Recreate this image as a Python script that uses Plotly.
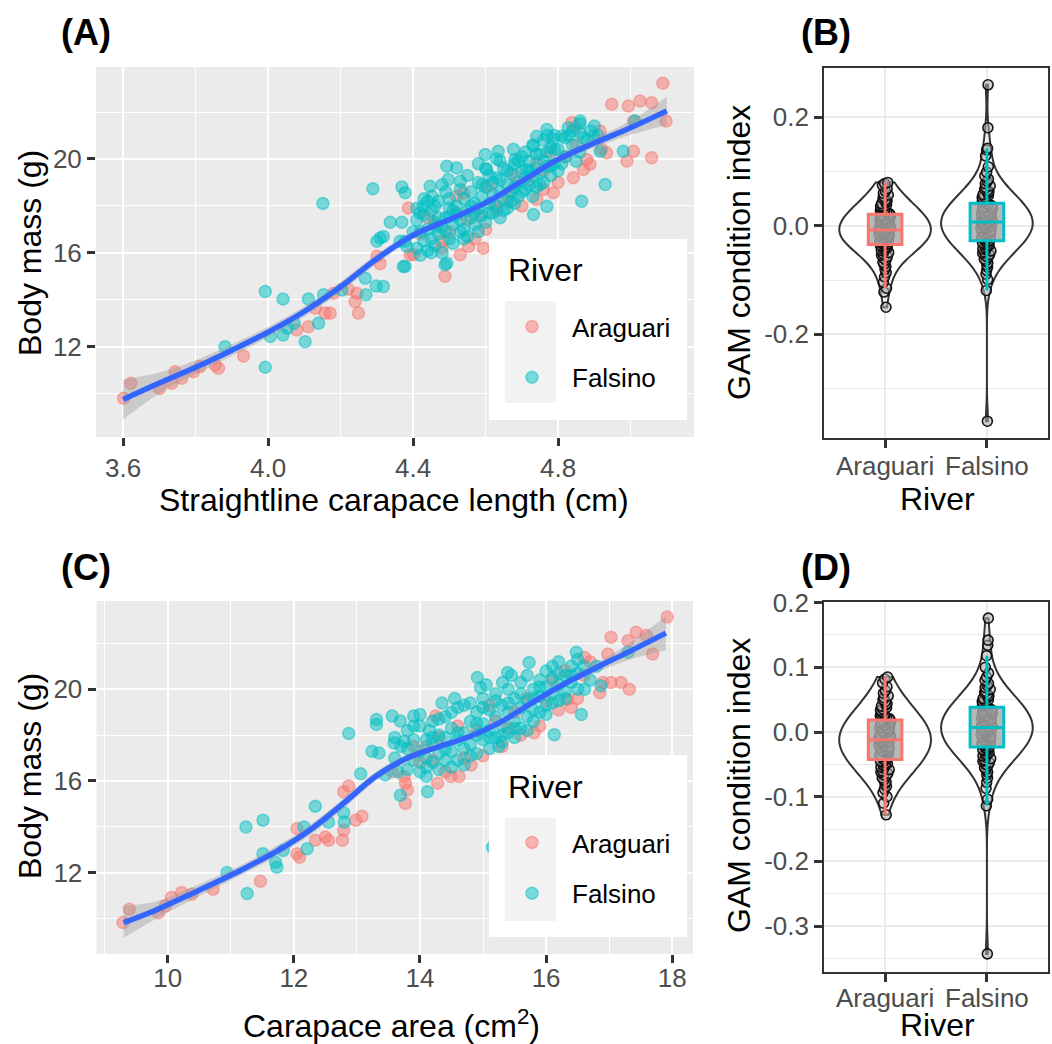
import plotly.graph_objects as go

W, H = 1052, 1044
FONT = "Liberation Sans, Arial, sans-serif"
RED = "#F8766D"
CYAN = "#00BFC4"

# ---------------- DATA ----------------
# Panel A: straightline carapace length (cm) vs body mass (g)
araA_x = [3.601, 3.621, 3.700, 3.734, 3.743, 3.762, 3.794, 3.812, 3.854, 3.863, 3.932,
          4.079, 4.111, 4.130, 4.157, 4.171, 4.180, 4.221, 4.245, 4.240, 4.249,
          4.300, 4.309, 4.387, 4.392, 4.401, 4.488, 4.479, 4.530, 4.553, 4.594,
          4.520, 4.539, 4.608, 4.622, 4.585, 4.672, 4.741, 4.741, 4.759, 4.787, 4.842,
          4.838, 4.847, 4.870, 4.879, 4.916, 4.920, 4.934, 4.948, 4.994, 5.008, 4.990,
          5.008, 5.026, 5.058, 5.058, 5.089, 5.098, 4.888,
          4.42, 4.46, 4.50, 4.55, 4.60, 4.63, 4.66, 4.70, 4.72, 4.68, 4.76, 4.80, 4.82,
          4.78, 4.85, 4.44, 4.52, 4.57, 4.48]
araA_y = [9.80, 10.44, 10.22, 10.44, 10.93, 10.65, 10.93, 11.15, 11.22, 11.08, 11.60,
          12.71, 12.85, 13.64, 13.43, 13.43, 14.28, 14.45, 14.28, 13.92, 13.43,
          15.85, 15.53, 17.91, 15.92, 15.92, 15.00, 16.20, 15.92, 16.27, 16.20,
          18.41, 18.56, 18.84, 18.13, 17.56, 18.62, 19.84, 18.27, 18.70, 18.56, 19.20,
          21.55, 21.33, 19.55, 19.98, 21.19, 20.41, 20.26, 22.33, 22.26, 21.62, 19.91,
          20.33, 22.47, 22.40, 20.05, 23.23, 21.62, 19.77,
          16.8, 17.2, 16.9, 17.4, 17.0, 17.8, 18.2, 18.0, 19.1, 19.3, 19.5, 19.0, 20.1,
          20.3, 20.6, 17.5, 17.7, 16.6, 16.5]

falA_x = [3.881, 3.992, 3.992, 4.006, 4.041, 4.041, 4.053, 4.072, 4.102, 4.111, 4.139,
          4.151, 4.153, 4.203, 4.268, 4.270, 4.298, 4.289, 4.300, 4.309, 4.337, 4.369,
          4.369, 4.378, 4.378, 4.378, 4.318, 4.318, 4.364, 4.383, 4.419, 4.428, 4.447,
          4.452, 4.488, 4.493, 4.520, 4.497, 4.530, 4.465, 4.502, 4.599, 4.603, 4.635,
          4.640, 4.677, 4.681, 4.713, 4.732, 4.741, 4.769, 4.787, 4.810, 4.828, 4.861,
          4.861, 4.897, 4.916, 4.930, 4.865, 4.769, 4.732, 4.980, 5.012, 4.493, 4.373,
          4.41, 4.41, 4.42, 4.42, 4.43, 4.43, 4.44, 4.44, 4.45, 4.45, 4.46, 4.46, 4.47,
          4.47, 4.48, 4.48, 4.49, 4.49, 4.50, 4.50, 4.51, 4.51, 4.52, 4.52, 4.53, 4.53,
          4.54, 4.54, 4.55, 4.55, 4.56, 4.56, 4.57, 4.57, 4.58, 4.58, 4.59, 4.59, 4.60,
          4.60, 4.61, 4.61, 4.62, 4.62, 4.63, 4.63, 4.64, 4.64, 4.65, 4.65, 4.66, 4.66,
          4.67, 4.67, 4.68, 4.68, 4.69, 4.69, 4.70, 4.70, 4.71, 4.71, 4.72, 4.72, 4.73,
          4.73, 4.74, 4.74, 4.75, 4.75, 4.76, 4.76, 4.77, 4.77, 4.78, 4.78, 4.79, 4.79,
          4.80, 4.80, 4.82, 4.82, 4.84, 4.84, 4.86, 4.86, 4.88, 4.90,
          4.40, 4.41, 4.43, 4.45, 4.46, 4.47, 4.49, 4.50, 4.51, 4.53, 4.54, 4.56, 4.57,
          4.58, 4.59, 4.60, 4.61, 4.62, 4.64, 4.65, 4.66, 4.67, 4.68, 4.69, 4.70, 4.71,
          4.72, 4.73, 4.74, 4.75, 4.76, 4.77, 4.78, 4.79, 4.81, 4.83, 4.85, 4.87, 4.89,
          4.91, 4.55, 4.48, 4.63, 4.58, 4.44]
falA_y = [12.00, 14.35, 11.12, 12.43, 14.03, 12.50, 12.79, 13.00, 12.21, 14.03, 13.00,
          18.10, 14.21, 14.42, 14.92, 14.21, 14.59, 18.73, 16.49, 16.63, 17.30, 17.30,
          18.81, 18.56, 15.42, 16.49, 16.70, 14.56, 16.49, 16.27, 17.70, 17.98, 18.84,
          18.41, 15.49, 19.69, 19.62, 19.12, 19.05, 17.13, 17.56, 20.19, 19.55, 20.33,
          19.91, 20.41, 19.98, 19.55, 20.55, 20.97, 21.26, 20.83, 20.97, 21.33, 21.62,
          21.12, 20.97, 20.33, 18.91, 18.20, 17.98, 17.63, 20.33, 21.62, 15.56, 15.42,
          16.2, 17.4, 16.9, 15.9, 17.6, 16.5, 16.1, 17.0, 17.8, 16.6, 16.3, 17.3, 18.2,
          16.8, 17.1, 16.0, 17.5, 18.6, 16.6, 17.9, 17.2, 16.4, 18.0, 17.6, 16.9, 17.4,
          18.3, 17.0, 17.8, 16.7, 18.6, 17.5, 17.2, 18.1, 17.9, 19.0, 18.4, 17.6, 17.3,
          18.8, 18.1, 19.3, 17.7, 18.5, 19.2, 18.0, 18.6, 17.5, 19.6, 18.3, 18.9, 17.9,
          19.4, 18.6, 18.1, 19.8, 19.0, 18.4, 19.5, 20.1, 18.7, 19.2, 19.9, 18.9, 19.3,
          20.6, 18.8, 19.6, 20.2, 19.4, 19.0, 20.8, 19.7, 20.3, 20.5, 19.3, 19.8, 21.0,
          20.4, 19.5, 20.9, 20.1, 21.2, 20.6, 20.3, 21.5, 20.8, 21.4,
          16.9, 17.9, 18.3, 16.0, 18.0, 17.5, 16.9, 18.3, 17.8, 18.7, 16.6, 18.0, 17.7,
          16.9, 18.9, 19.6, 17.7, 19.0, 19.1, 17.8, 19.5, 18.2, 18.8, 19.9, 18.6, 20.3,
          19.5, 18.4, 20.2, 18.9, 19.9, 21.0, 19.7, 20.4, 19.8, 21.0, 19.9, 20.9, 21.2,
          21.0, 19.3, 18.9, 20.0, 19.8, 18.2]

# GAM smooth for panel A
fitA_x = [3.60, 3.70, 3.80, 3.90, 4.00, 4.10, 4.20, 4.30, 4.40, 4.50, 4.60, 4.70, 4.80, 4.90, 5.00, 5.10]
fitA_y = [9.75, 10.45, 11.12, 11.85, 12.62, 13.50, 14.55, 15.75, 16.75, 17.42, 18.13, 19.05, 19.98, 20.68, 21.33, 22.05]
fitA_lo = [8.90, 10.00, 10.82, 11.60, 12.40, 13.28, 14.33, 15.55, 16.60, 17.30, 18.01, 18.93, 19.83, 20.48, 21.03, 21.45]
fitA_hi = [10.60, 10.90, 11.42, 12.10, 12.84, 13.72, 14.77, 15.95, 16.90, 17.54, 18.25, 19.17, 20.13, 20.88, 21.63, 22.65]

# Panel C: carapace area (cm2) vs body mass (g)
araC_x = [9.29, 9.39, 9.85, 9.96, 10.06, 10.22, 10.38, 10.72, 11.47, 12.05, 12.05, 12.09,
          12.34, 12.50, 12.55, 12.77, 12.79, 12.79, 12.87, 12.98, 13.08, 13.56, 13.75,
          13.77, 13.77, 13.80, 14.28, 14.25, 14.49, 14.62, 14.81, 15.81, 16.34, 16.40,
          16.85, 16.90, 17.03, 17.19, 17.32, 17.03, 17.30, 17.43, 17.59, 17.69, 17.92,
          16.98, 16.61,
          14.0, 14.1, 14.3, 14.4, 14.6, 14.7, 14.9, 15.0, 15.2, 15.3, 15.5, 15.6, 15.7,
          15.9, 16.0, 16.1, 16.2, 16.3, 16.5, 16.6, 16.7, 13.9, 14.2, 15.4, 15.1]
araC_y = [9.82, 10.40, 10.25, 10.55, 10.91, 11.13, 11.06, 11.28, 11.62, 13.92, 12.82, 12.67,
          13.41, 13.55, 13.41, 13.41, 13.85, 15.53, 15.78, 14.29, 14.46, 16.41, 16.19,
          15.02, 15.90, 15.60, 15.90, 18.83, 16.19, 16.19, 16.70, 18.10, 19.56, 19.20,
          19.85, 20.29, 20.29, 20.29, 20.00, 22.27, 22.12, 22.49, 22.34, 21.54, 23.15,
          21.54, 21.39,
          16.8, 17.5, 17.9, 16.4, 18.4, 17.0, 18.2, 17.1, 18.6, 17.5, 19.0, 18.0, 19.6,
          18.4, 19.5, 20.4, 19.1, 20.8, 19.6, 20.6, 21.2, 17.5, 16.9, 18.3, 19.3]

falC_x = [10.94, 11.24, 11.26, 11.51, 11.51, 11.71, 11.73, 11.83, 12.16, 12.21, 12.34,
          12.55, 12.79, 12.80, 12.87, 13.06, 13.31, 13.31, 13.24, 13.35, 13.45, 13.56,
          13.69, 13.59, 13.69, 13.75, 13.90, 14.12, 14.91, 14.96, 15.31, 15.39, 15.73,
          16.13, 16.56, 16.48, 16.61, 16.87, 15.15, 17.30,
          13.6, 13.6, 13.8, 13.8, 13.8, 13.9, 13.9, 14.0, 14.0, 14.0, 14.1, 14.1, 14.1,
          14.2, 14.2, 14.2, 14.3, 14.3, 14.3, 14.4, 14.4, 14.4, 14.5, 14.5, 14.5, 14.6,
          14.6, 14.6, 14.7, 14.7, 14.7, 14.8, 14.8, 14.8, 14.9, 14.9, 14.9, 15.0, 15.0,
          15.0, 15.1, 15.1, 15.1, 15.2, 15.2, 15.2, 15.3, 15.3, 15.3, 15.4, 15.4, 15.4,
          15.5, 15.5, 15.5, 15.6, 15.6, 15.6, 15.7, 15.7, 15.7, 15.8, 15.8, 15.8, 15.9,
          15.9, 15.9, 16.0, 16.0, 16.0, 16.1, 16.1, 16.1, 16.2, 16.2, 16.2, 16.3, 16.3,
          16.4, 16.4, 16.5, 16.5,
          13.7, 13.9, 14.0, 14.1, 14.2, 14.3, 14.4, 14.5, 14.6, 14.7, 14.8, 14.9, 15.0,
          15.1, 15.2, 15.3, 15.4, 15.5, 15.6, 15.7, 15.8, 15.9, 16.0, 16.1, 16.2, 16.3,
          16.4, 16.5, 16.6, 14.35, 14.55, 13.65, 15.05, 15.45, 15.25, 14.15, 16.7, 16.8]
falC_y = [12.01, 13.99, 11.09, 14.29, 12.82, 12.45, 12.23, 12.97, 13.99, 13.04, 14.90,
          14.21, 14.61, 14.21, 18.07, 16.31, 18.68, 18.46, 17.29, 17.22, 16.26, 18.83,
          18.61, 17.66, 15.38, 17.73, 18.83, 15.53, 20.51, 20.07, 20.29, 20.73, 21.17,
          18.02, 18.90, 21.61, 20.00, 20.15, 13.11, 21.61,
          17.0, 17.9, 16.5, 18.2, 17.4, 16.9, 17.8, 16.4, 17.3, 18.4, 17.0, 17.8, 16.2,
          17.6, 18.6, 16.8, 17.2, 16.5, 18.0, 17.9, 16.9, 18.8, 17.3, 18.3, 16.6, 17.8,
          16.9, 19.2, 18.1, 17.4, 16.7, 18.6, 17.6, 19.4, 18.0, 17.2, 19.0, 18.5, 17.8,
          19.6, 18.2, 19.1, 17.4, 18.8, 17.9, 19.8, 18.4, 19.3, 17.7, 19.0, 18.1, 20.0,
          18.6, 19.6, 17.9, 19.2, 18.3, 20.3, 19.5, 18.8, 20.6, 19.1, 20.0, 18.6, 19.7,
          20.4, 19.0, 20.1, 19.3, 20.8, 19.8, 20.5, 21.0, 20.2, 19.5, 21.2, 20.6, 19.9,
          21.0, 20.3, 20.7, 21.3,
          17.5, 18.4, 18.9, 16.6, 17.9, 18.7, 17.4, 19.0, 18.1, 19.3, 17.1, 18.5, 19.2,
          17.9, 19.5, 18.0, 19.4, 18.3, 19.8, 18.2, 19.6, 20.1, 18.9, 19.4, 20.7, 19.6,
          20.6, 20.0, 21.0, 19.4, 19.6, 16.4, 20.2, 20.6, 17.5, 18.2, 20.4, 21.0]

fitC_x = [9.3, 9.8, 10.3, 10.8, 11.3, 11.8, 12.3, 12.8, 13.3, 13.8, 14.3, 14.8, 15.3, 15.8, 16.3, 16.8, 17.3, 17.9]
fitC_y = [9.82, 10.35, 10.98, 11.62, 12.30, 13.05, 13.95, 15.05, 16.20, 17.00, 17.50, 17.95, 18.60, 19.45, 20.25, 20.95, 21.62, 22.45]
fitC_lo = [9.15, 9.97, 10.70, 11.38, 12.08, 12.82, 13.72, 14.83, 16.00, 16.82, 17.38, 17.83, 18.48, 19.33, 20.12, 20.75, 21.27, 21.70]
fitC_hi = [10.55, 10.73, 11.26, 11.86, 12.52, 13.28, 14.18, 15.27, 16.40, 17.18, 17.62, 18.07, 18.72, 19.57, 20.38, 21.15, 21.97, 23.20]

# Panel B: GAM condition index (length model)
condB_ara = [-0.150, -0.122, -0.115, -0.104, -0.094, -0.086, -0.080, -0.075, -0.071, -0.067,
             -0.063, -0.060, -0.057, -0.054, -0.051, -0.049, -0.047, -0.045, -0.043, -0.042,
             -0.040, -0.039, -0.037, -0.036, -0.035, -0.034, -0.033, -0.032, -0.031, -0.030,
             -0.028, -0.027, -0.026, -0.025, -0.024, -0.023, -0.022, -0.020, -0.019, -0.018,
             -0.017, -0.016, -0.015, -0.014, -0.013, -0.012, -0.011, -0.010, -0.009, -0.008,
             -0.007, -0.005, -0.004, -0.003, -0.002, -0.001, 0.000, 0.001, 0.002, 0.003,
             0.004, 0.005, 0.006, 0.008, 0.009, 0.010, 0.011, 0.012, 0.013, 0.014,
             0.016, 0.017, 0.018, 0.019, 0.021, 0.022, 0.023, 0.025, 0.026, 0.028,
             0.029, 0.031, 0.032, 0.034, 0.036, 0.037, 0.039, 0.041, 0.043, 0.046,
             0.048, 0.051, 0.054, 0.057, 0.060, 0.064, 0.069, 0.075, 0.078, 0.080]
condB_fal = [-0.360, -0.119, -0.099, -0.089, -0.082, -0.076, -0.072, -0.068, -0.064, -0.061,
             -0.058, -0.055, -0.053, -0.050, -0.048, -0.046, -0.044, -0.042, -0.040, -0.038,
             -0.036, -0.035, -0.033, -0.031, -0.030, -0.028, -0.027, -0.025, -0.024, -0.022,
             -0.021, -0.020, -0.018, -0.017, -0.015, -0.014, -0.013, -0.012, -0.010, -0.009,
             -0.008, -0.007, -0.005, -0.004, -0.003, -0.002, 0.000, 0.001, 0.002, 0.003,
             0.004, 0.006, 0.007, 0.008, 0.009, 0.010, 0.012, 0.013, 0.014, 0.015,
             0.017, 0.018, 0.019, 0.020, 0.022, 0.023, 0.024, 0.025, 0.027, 0.028,
             0.030, 0.031, 0.032, 0.034, 0.035, 0.037, 0.038, 0.040, 0.041, 0.043,
             0.045, 0.046, 0.048, 0.050, 0.052, 0.054, 0.056, 0.058, 0.060, 0.063,
             0.065, 0.068, 0.071, 0.074, 0.078, 0.082, 0.086, 0.092, 0.099, 0.109,
             0.129, 0.140, 0.143, 0.181, 0.260]

# Panel D: GAM condition index (area model)
condD_ara = [-0.128, -0.110, -0.100, -0.094, -0.088, -0.084, -0.080, -0.077, -0.074, -0.071,
             -0.068, -0.066, -0.064, -0.062, -0.060, -0.058, -0.056, -0.054, -0.052, -0.051,
             -0.049, -0.048, -0.046, -0.045, -0.043, -0.042, -0.040, -0.039, -0.038, -0.036,
             -0.035, -0.034, -0.032, -0.031, -0.030, -0.029, -0.028, -0.026, -0.025, -0.024,
             -0.023, -0.022, -0.021, -0.019, -0.018, -0.017, -0.016, -0.015, -0.014, -0.013,
             -0.011, -0.010, -0.009, -0.008, -0.007, -0.006, -0.005, -0.004, -0.002, -0.001,
             0.000, 0.001, 0.002, 0.004, 0.005, 0.006, 0.007, 0.008, 0.010, 0.011,
             0.012, 0.014, 0.015, 0.016, 0.018, 0.019, 0.021, 0.022, 0.024, 0.025,
             0.027, 0.028, 0.030, 0.032, 0.034, 0.036, 0.038, 0.040, 0.042, 0.044,
             0.047, 0.050, 0.053, 0.056, 0.060, 0.064, 0.070, 0.076, 0.082, 0.085]
condD_fal = [-0.343, -0.114, -0.104, -0.087, -0.078, -0.071, -0.066, -0.062, -0.058, -0.055,
             -0.052, -0.050, -0.047, -0.045, -0.043, -0.041, -0.039, -0.037, -0.035, -0.034,
             -0.032, -0.030, -0.029, -0.027, -0.026, -0.024, -0.023, -0.022, -0.020, -0.019,
             -0.018, -0.017, -0.015, -0.014, -0.013, -0.012, -0.011, -0.009, -0.008, -0.007,
             -0.006, -0.005, -0.004, -0.003, -0.001, 0.000, 0.001, 0.002, 0.003, 0.004,
             0.005, 0.006, 0.007, 0.008, 0.009, 0.011, 0.012, 0.013, 0.014, 0.015,
             0.016, 0.017, 0.018, 0.019, 0.020, 0.022, 0.023, 0.024, 0.025, 0.026,
             0.027, 0.029, 0.030, 0.031, 0.032, 0.034, 0.035, 0.036, 0.038, 0.039,
             0.041, 0.042, 0.044, 0.045, 0.047, 0.049, 0.050, 0.052, 0.054, 0.056,
             0.058, 0.061, 0.063, 0.066, 0.069, 0.072, 0.075, 0.080, 0.085, 0.091,
             0.100, 0.118, 0.134, 0.142, 0.176]

rivers = ["Araguari", "Falsino"]

# ---------------- HELPERS ----------------
def rgba(hexc, a):
    h = hexc.lstrip("#")
    return "rgba(%d,%d,%d,%s)" % (int(h[0:2], 16), int(h[2:4], 16), int(h[4:6], 16), a)

def px_x(p):
    return p / W

def px_y(p):
    return 1 - p / H

fig = go.Figure()

def scatter_panel(xa, ya, legend, ax, ay, fx, fy, flo, fhi):
    for name, xs, ys, col, grp in [("Araguari", ax[0], ay[0], RED, "a"),
                                   ("Falsino", ax[1], ay[1], CYAN, "f")]:
        fig.add_trace(go.Scatter(
            x=xs, y=ys, mode="markers", name=name, legend=legend, legendgroup=legend + grp,
            xaxis=xa, yaxis=ya,
            marker=dict(size=12, color=rgba(col, 0.5), line=dict(color=rgba(col, 0.5), width=1.5)),
            hoverinfo="skip"))
    fig.add_trace(go.Scatter(x=fx, y=flo, mode="lines", line=dict(width=0, shape="spline"),
                             xaxis=xa, yaxis=ya, showlegend=False, hoverinfo="skip"))
    fig.add_trace(go.Scatter(x=fx, y=fhi, mode="lines", line=dict(width=0, shape="spline"),
                             fill="tonexty", fillcolor="rgba(153,153,153,0.4)",
                             xaxis=xa, yaxis=ya, showlegend=False, hoverinfo="skip"))
    fig.add_trace(go.Scatter(x=fx, y=fy, mode="lines", line=dict(width=5.5, color="#3366FF", shape="spline"),
                             xaxis=xa, yaxis=ya, showlegend=False, hoverinfo="skip"))

scatter_panel("x", "y", "legend", [araA_x, falA_x], [araA_y, falA_y], fitA_x, fitA_y, fitA_lo, fitA_hi)
scatter_panel("x3", "y3", "legend2", [araC_x, falC_x], [araC_y, falC_y], fitC_x, fitC_y, fitC_lo, fitC_hi)

def violin_panel(xa, ya, vals, bws):
    for river, v, bw in zip(rivers, vals, bws):
        fig.add_trace(go.Violin(
            x=[river] * len(v), y=v, xaxis=xa, yaxis=ya, width=0.9, scalemode="width",
            spanmode="hard", bandwidth=bw, points=False, fillcolor="rgba(0,0,0,0)",
            line=dict(color="#333333", width=2), box_visible=False, meanline_visible=False,
            showlegend=False, hoverinfo="skip"))
    for river, v in zip(rivers, vals):
        fig.add_trace(go.Box(
            x=[river] * len(v), y=v, xaxis=xa, yaxis=ya, width=0.12, boxpoints="all", jitter=1,
            pointpos=0, fillcolor="rgba(0,0,0,0)", line=dict(width=0, color="rgba(0,0,0,0)"),
            marker=dict(size=10, color="rgba(175,175,175,0.55)",
                        line=dict(color="rgba(10,10,10,0.95)", width=1.6)),
            showlegend=False, hoverinfo="skip"))
    for river, v, col in zip(rivers, vals, [RED, CYAN]):
        fig.add_trace(go.Box(
            x=[river] * len(v), y=v, xaxis=xa, yaxis=ya, width=0.33, boxpoints="outliers",
            whiskerwidth=0, fillcolor="rgba(168,168,168,0.82)", line=dict(color=col, width=3),
            marker=dict(opacity=0, size=1), showlegend=False, hoverinfo="skip"))

violin_panel("x2", "y2", [condB_ara, condB_fal], [0.024, 0.024])
violin_panel("x4", "y4", [condD_ara, condD_fal], [0.024, 0.024])

# ---------------- LAYOUT ----------------
tickfont = dict(family=FONT, size=26, color="#4D4D4D")

def grey_axis(domain, rng, tickvals, ticktext, minor_vals, standoff=0):
    return dict(domain=domain, range=rng, tickvals=tickvals, ticktext=ticktext, automargin=False,
                showgrid=True, gridcolor="white", gridwidth=2.2, zeroline=False,
                ticks="outside", ticklen=8, tickwidth=2.5, tickcolor="#333333",
                tickfont=tickfont, showline=False, ticklabelstandoff=standoff,
                minor=dict(tickvals=minor_vals, showgrid=True, gridcolor="white", gridwidth=1.1, ticks=""))

def bw_axis(domain, rng, tickvals, ticktext, minor_vals, standoff=0):
    d = dict(domain=domain, range=rng, tickvals=tickvals, ticktext=ticktext, automargin=False,
             showgrid=True, gridcolor="#EBEBEB", gridwidth=2.2, zeroline=False,
             ticks="outside", ticklen=8, tickwidth=2.5, tickcolor="#333333",
             tickfont=tickfont, showline=True, mirror=True, linecolor="#333333", linewidth=1.6,
             ticklabelstandoff=standoff)
    if minor_vals:
        d["minor"] = dict(tickvals=minor_vals, showgrid=True, gridcolor="#EBEBEB", gridwidth=1.1, ticks="")
    return d

A_dom_x = [px_x(96), px_x(694)]
A_dom_y = [px_y(437), px_y(67)]
C_dom_x = [px_x(96.5), px_x(693)]
C_dom_y = [px_y(954), px_y(601)]
B_dom_x = [px_x(824), px_x(1048)]
B_dom_y = [px_y(438), px_y(68)]
D_dom_y = [px_y(972), px_y(602)]

xA_ticks = [3.6, 4.0, 4.4, 4.8]
yMass_ticks = [12, 16, 20]
xC_ticks = [10, 12, 14, 16, 18]
yB_ticks = [-0.2, 0.0, 0.2]
yD_ticks = [-0.3, -0.2, -0.1, 0.0, 0.1, 0.2]

fig.update_layout(
    width=W, height=H, margin=dict(l=0, r=0, t=0, b=0, autoexpand=False),
    paper_bgcolor="white", plot_bgcolor="white",
    font=dict(family=FONT, color="black"),
    boxmode="overlay", violinmode="overlay",
    xaxis=grey_axis(A_dom_x, [3.525, 5.175], xA_ticks, ["3.6", "4.0", "4.4", "4.8"], [3.8, 4.2, 4.6, 5.0]),
    yaxis=grey_axis(A_dom_y, [8.15, 23.92], yMass_ticks, ["12", "16", "20"], [10, 14, 18, 22]),
    xaxis3=grey_axis(C_dom_x, [8.87, 18.33], xC_ticks, ["10", "12", "14", "16", "18"], [9, 11, 13, 15, 17],
                     standoff=-7),
    yaxis3=grey_axis(C_dom_y, [8.45, 23.85], yMass_ticks, ["12", "16", "20"], [10, 14, 18, 22]),
    xaxis2=bw_axis(B_dom_x, [-0.6, 1.6], rivers, rivers, None, standoff=-4),
    yaxis2=bw_axis(B_dom_y, [-0.391, 0.291], yB_ticks, ["-0.2", "0.0", "0.2"], [-0.3, -0.1, 0.1]),
    xaxis4=bw_axis(B_dom_x, [-0.6, 1.6], rivers, rivers, None, standoff=-6),
    yaxis4=bw_axis(D_dom_y, [-0.371, 0.201], yD_ticks, ["-0.3", "-0.2", "-0.1", "0.0", "0.1", "0.2"],
                   [-0.35, -0.25, -0.15, -0.05, 0.05, 0.15]),
)
fig.update_layout(xaxis2=dict(type="category", categoryorder="array", categoryarray=rivers, anchor="y2"),
                  yaxis2=dict(anchor="x2"),
                  xaxis4=dict(type="category", categoryorder="array", categoryarray=rivers, anchor="y4"),
                  yaxis4=dict(anchor="x4"),
                  xaxis3=dict(anchor="y3"), yaxis3=dict(anchor="x3"))

# grey panel backgrounds
shapes = []
for xr, yr in [("x", "y"), ("x3", "y3")]:
    shapes.append(dict(type="rect", xref=xr + " domain", yref=yr + " domain", x0=0, x1=1, y0=0, y1=1,
                       fillcolor="#EBEBEB", line=dict(width=0), layer="below"))

# legend boxes (white) and key backgrounds (grey95)
for (bx0, bx1, by0, by1), (kx0, kx1, ky0, ky1) in [((489, 687, 239, 420), (505, 556, 301, 403)),
                                                   ((489, 687, 755, 937), (505, 556, 818, 921))]:
    shapes.append(dict(type="rect", xref="paper", yref="paper", x0=px_x(bx0), x1=px_x(bx1),
                       y0=px_y(by1), y1=px_y(by0), fillcolor="white", line=dict(width=0), layer="above"))
    shapes.append(dict(type="rect", xref="paper", yref="paper", x0=px_x(kx0), x1=px_x(kx1),
                       y0=px_y(ky1), y1=px_y(ky0), fillcolor="#F2F2F2", line=dict(width=0), layer="above"))
fig.update_layout(shapes=shapes)

legend_style = dict(xref="paper", yref="paper", xanchor="left", yanchor="top",
                    bgcolor="rgba(0,0,0,0)", borderwidth=0,
                    font=dict(family=FONT, size=26, color="black"),
                    tracegroupgap=14, itemwidth=70, traceorder="grouped")
fig.update_layout(legend=dict(x=px_x(492), y=px_y(303), **legend_style),
                  legend2=dict(x=px_x(492), y=px_y(819), **legend_style))

# annotations: panel tags, legend titles and axis titles
ann = []
def add_text(text, x, y, size, bold=False, angle=0, anchor="center"):
    ann.append(dict(text=("<b>%s</b>" % text) if bold else text, x=px_x(x), y=px_y(y),
                    xref="paper", yref="paper", xanchor=anchor, yanchor="middle",
                    showarrow=False, textangle=angle,
                    font=dict(family=FONT, size=size, color="black")))

add_text("(A)", 86, 32, 36, bold=True)
add_text("(B)", 826, 32, 36, bold=True)
add_text("(C)", 86, 567, 36, bold=True)
add_text("(D)", 826, 567, 36, bold=True)
add_text("River", 506, 270, 32, anchor="left")
add_text("River", 506, 787, 32, anchor="left")
add_text("Body mass (g)", 30, 253, 32, angle=-90)
add_text("Body mass (g)", 30, 776, 32, angle=-90)
add_text("Straightline carapace length (cm)", 394, 500, 32)
add_text("Carapace area (cm<sup>2</sup>)", 391, 1024, 32)
add_text("GAM condition index", 739, 253, 32, angle=-90)
add_text("GAM condition index", 739, 786, 32, angle=-90)
add_text("River", 937, 499, 32)
add_text("River", 937, 1025, 32)
fig.update_layout(annotations=ann)

fig.write_html("out.html", config={"displayModeBar": False},
               post_script="document.body.style.margin='0px';")
